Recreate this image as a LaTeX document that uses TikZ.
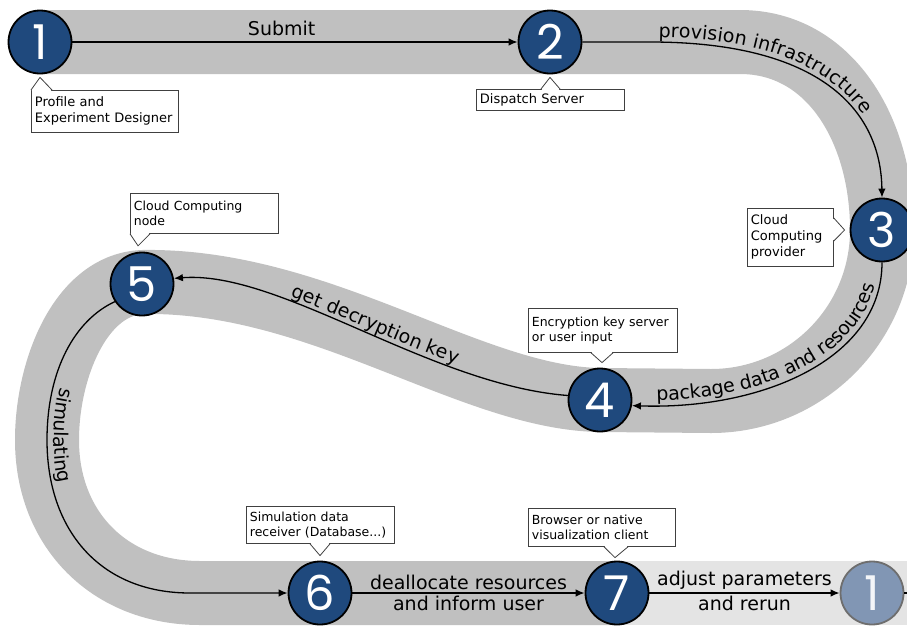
\documentclass[tikz,border=0pt]{standalone}
\usepackage{fontspec}
\setmainfont{DejaVu Sans}
\newfontfamily\digitfont{Poppins}
\usetikzlibrary{arrows.meta,decorations.text}
\definecolor{stepblue}{HTML}{1F497D}
\definecolor{bandgray}{HTML}{C0C0C0}
\definecolor{bandlight}{HTML}{E4E4E4}
\definecolor{fadeblue}{HTML}{8196B4}
\definecolor{fadeedge}{HTML}{6E6E6E}
\definecolor{boxedge}{HTML}{404040}
\newcommand{\flowfont}{\fontsize{19}{22}\selectfont}
% pointer of a callout box: base start, apex, base end
\newcommand{\calltip}[3]{%
  \fill[white] #1 -- #2 -- #3 -- cycle;
  \draw[white, line width=1.4pt, shorten <=0.8pt, shorten >=0.8pt] #1 -- #3;
  \draw[callline] #1 -- #2 -- #3;}
\tikzset{
  stepnode/.style={circle, draw=black, line width=1.8pt, fill=stepblue, text=white,
    minimum size=63pt, inner sep=0pt, font=\digitfont\fontsize{48}{48}\selectfont},
  fadenode/.style={stepnode, draw=fadeedge, fill=fadeblue, text=white!90!fadeblue},
  band/.style={line width=64pt, draw=bandgray, line join=round},
  flow/.style={line width=1.3pt, -{Latex[length=9pt,width=7.5pt]}},
  backflow/.style={line width=1.3pt, {Latex[length=9pt,width=7.5pt]}-},
  flowlabel/.style={font=\flowfont, inner sep=2pt},
  flowtext/.style n args={3}{postaction={decorate, decoration={text along path,
    raise=#3, text align={left indent=#2}, text={|\flowfont|#1}}}},
  callbox/.style={draw=boxedge, line width=0.8pt, fill=white, anchor=north west,
    align=left, inner xsep=3.5pt, inner ysep=2pt, font=\fontsize{13}{16}\selectfont},
  callsmall/.style={callbox, font=\fontsize{12.5}{15.5}\selectfont},
  callline/.style={draw=boxedge, line width=0.8pt, line join=miter},
}
\begin{document}
\begin{tikzpicture}[x=1pt, y=-1pt]
\clip (0,0) rectangle (907,627);
% the track
\draw[band, draw=bandlight] (617,593) -- (912,593);
\draw[band] (40,42) -- (740,42) .. controls (830,42) and (882,130) .. (882,230)
  .. controls (882,325) and (805,401) .. (711,401) -- (600,400)
  .. controls (470,398) and (320,279) .. (142,282)
  .. controls (80,285) and (47,370) .. (47,440)
  .. controls (47,530) and (110,593) .. (200,593) -- (617,593);
% steps
\node[stepnode] (s1) at (40,42) {1};
\node[stepnode] (s2) at (550,42) {2};
\node[stepnode] (s3) at (882,230) {3};
\node[stepnode] (s4) at (600,400) {4};
\node[stepnode] (s5) at (142,284) {5};
\node[stepnode] (s6) at (320,593) {6};
\node[stepnode] (s7) at (617,593) {7};
\node[fadenode] (f1) at (872,593) {1};
\coordinate (rim) at (912,593);
% flow
\draw[flow] (s1) -- node[flowlabel, above=4pt, pos=.47] (submit) {Submit} (s2);
\draw[flow, flowtext={provision infrastructure}{76pt}{5pt}] (s2.east) -- (650,42)
  .. controls (820,42) and (881,110) .. (s3.north);
\draw[backflow, flowtext={package data and resources}{25pt}{5pt}] (s4.-10)
  .. controls (760,410) and (882,360) .. (s3.south);
\draw[backflow, flowtext={get decryption key}{118pt}{5pt}] (s5.10)
  .. controls (280,270) and (430,385) .. (s4.172);
\draw[flow, flowtext={simulating}{108pt}{7pt}] (s5.213)
  .. controls (75,320) and (47,370) .. (47,440)
  .. controls (47,530) and (100,593) .. (190,593) -- (s6.west);
\draw[flow] (s6) -- node[flowlabel, above=1pt] (dealloc) {deallocate resources}
  node[flowlabel, below=0pt] (inform) {and inform user} (s7);
\draw[flow] (s7) -- node[flowlabel, above=1pt] (adjust) {adjust parameters}
  node[flowlabel, below=0pt] (rerun) {and rerun} (f1);
\draw[line width=1.3pt] (f1) -- (rim);
% callouts
\node[callbox, text width=140pt, minimum height=42pt] (prof) at (31,90)
  {Profile and\\Experiment Designer};
\calltip{(prof.north west)}{([yshift=-3pt]s1.south)}{([xshift=21pt]prof.north west)}
\node[callbox, text width=141pt, minimum height=21pt] (disp) at (476,89)
  {Dispatch Server};
\calltip{([xshift=65pt]disp.north west)}{([yshift=-3pt]s2.south)}{([xshift=84pt]disp.north west)}
\node[callbox, text width=79pt, minimum height=58pt] (prov) at (747,208)
  {Cloud\\Computing\\provider};
\calltip{([yshift=-10pt]prov.north east)}{([xshift=-5pt]s3.west)}{([yshift=-33pt]prov.north east)}
\node[callsmall, text width=141pt, minimum height=40pt] (cnode) at (130,193)
  {Cloud Computing\\node};
\calltip{(cnode.south west)}{([yshift=6pt]s5.97)}{([xshift=20pt]cnode.south west)}
\node[callsmall, text width=142pt, minimum height=44pt] (enc) at (528,308)
  {Encryption key server\\or user input};
\calltip{([xshift=63pt]enc.south west)}{([xshift=2pt,yshift=5pt]s4.north)}{([xshift=85pt]enc.south west)}
\node[callsmall, text width=141pt, minimum height=37pt] (simrec) at (246,506)
  {Simulation data\\receiver (Database...)};
\calltip{([xshift=64pt]simrec.south west)}{([yshift=5pt]s6.north)}{([xshift=84pt]simrec.south west)}
\node[callsmall, text width=140pt, minimum height=38pt] (browser) at (528,508)
  {Browser or native\\visualization client};
\calltip{([xshift=76pt]browser.south west)}{([xshift=-2pt,yshift=3pt]s7.north)}{([xshift=100pt]browser.south west)}
\end{tikzpicture}
\end{document}
